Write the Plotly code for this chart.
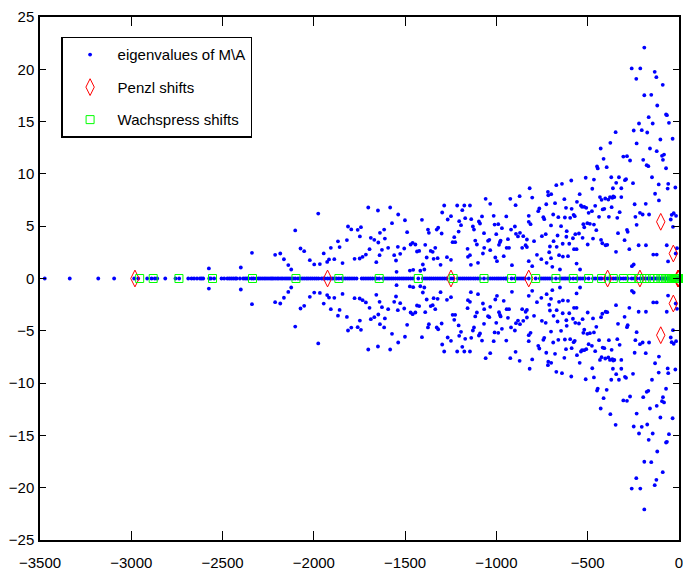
import plotly.graph_objects as go

# ---------------- data ----------------
# eigenvalues with positive imaginary part; their conjugates are the lower half
UP_RE_A = [-2575, -2400, -2339, -2212, -2184, -2164, -2140, -2124, -2102, -2073,
           -2053, -2022, -1998, -1976, -1967, -1946, -1927, -1917, -1907, -1888,
           -1868, -1859, -1843, -1819, -1813, -1795, -1777, -1760, -1749, -1742,
           -1748, -1733, -1715, -1702, -1695, -1688, -1669, -1658, -1649, -1647,
           -1638, -1640, -1627, -1615, -1611, -1593, -1582, -1572, -1560, -1550,
           -1547, -1538, -1540, -1527, -1505, -1501]
UP_IM_A = [0.96, 1.05, 2.45, 2.26, 2.39, 1.84, 1.28, 0.86, 4.60, 2.87,
           2.61, 1.75, 1.35, 6.21, 1.38, 2.40, 1.58, 1.82, 2.93, 1.85,
           3.55, 3.00, 1.47, 3.67, 4.97, 4.69, 1.88, 4.65, 1.91, 4.91,
           4.02, 2.07, 2.29, 6.79, 2.80, 3.89, 3.70, 1.56, 6.50, 3.44,
           4.37, 2.23, 2.74, 4.68, 3.82, 2.93, 6.79, 5.29, 2.23, 1.72,
           0.64, 6.12, 3.03, 2.36, 2.87, 5.57]

UP_RE_B = [-1489, -1474, -1470, -1459, -1444, -1456, -1435, -1423, -1417, -1408,
           -1403, -1395, -1390, -1382, -1375, -1370, -1360, -1349, -1344, -1335,
           -1327, -1319, -1322, -1306, -1300, -1297, -1286, -1271, -1267, -1249,
           -1249, -1240, -1231, -1226, -1215, -1207, -1204, -1194, -1187, -1176,
           -1171, -1158, -1156, -1145, -1145, -1138, -1140, -1129, -1123, -1116,
           -1107, -1101, -1096, -1090, -1079, -1074, -1068, -1067, -1059, -1046,
           -1039, -1034, -1034, -1015, -1010, -1006, -1001, -997, -990, -986,
           -981, -977, -970, -960, -946, -944, -937, -931, -924, -920,
           -915, -899, -895, -893, -882, -873, -871, -859, -853, -840,
           -833, -833, -823, -823, -818, -813, -823, -804, -804, -794]
UP_IM_B = [4.43, 0.76, 3.25, 3.41, 3.25, 0.83, 2.58, 2.64, 0.74, 5.61,
           1.34, 0.86, 3.22, 2.01, 4.68, 4.37, 2.64, 2.55, 1.88, 2.93,
           4.68, 4.85, 1.94, 1.31, 4.30, 6.31, 6.98, 2.04, 5.64, 1.79,
           5.96, 3.47, 3.95, 3.47, 6.98, 4.49, 5.48, 5.10, 6.53, 6.98,
           5.77, 2.84, 2.07, 6.98, 2.23, 5.67, 1.31, 4.97, 4.68, 3.63,
           3.25, 1.50, 5.45, 5.26, 5.93, 2.39, 4.33, 2.93, 7.62, 3.60,
           3.70, 2.71, 7.14, 5.99, 5.16, 2.01, 4.24, 1.66, 5.19, 3.22,
           3.47, 3.63, 4.81, 2.13, 5.93, 2.93, 3.76, 2.93, 7.62, 4.68,
           1.27, 4.97, 7.01, 4.27, 4.02, 7.87, 4.37, 2.93, 4.05, 3.18,
           3.00, 3.73, 5.99, 5.42, 8.63, 5.19, 1.66, 7.74, 1.18, 3.57]

UP_RE_C = [-778, -771, -765, -754, -743, -738, -751, -730, -727, -725,
           -718, -716, -711, -707, -700, -701, -701, -694, -687, -689,
           -679, -672, -670, -665, -661, -657, -652, -646, -641, -637,
           -636, -628, -625, -619, -617, -615, -608, -601, -596, -590,
           -588, -581, -577, -575, -571, -568, -561, -561, -559, -548,
           -544, -542, -537, -531, -528, -524, -519, -519, -511, -508,
           -502, -500, -495, -488, -477, -475, -471, -466, -466, -459,
           -453, -449, -445, -438, -433, -429, -427, -424, -420, -418,
           -413, -409, -404, -402, -396, -393, -387, -384, -378, -376]
UP_IM_C = [2.26, 6.44, 6.69, 1.85, 5.86, 5.67, 4.05, 4.24, 7.10, 1.50,
           8.29, 7.96, 2.51, 3.06, 8.06, 5.07, 1.94, 1.12, 3.57, 6.12,
           7.20, 8.92, 3.03, 4.11, 5.86, 2.23, 0.86, 5.00, 9.05, 3.32,
           2.10, 7.58, 5.83, 6.76, 3.99, 4.52, 2.13, 3.32, 5.80, 9.37,
           6.66, 3.85, 6.09, 2.80, 5.96, 4.24, 2.80, 1.43, 7.33, 4.30,
           8.06, 0.86, 6.98, 6.85, 3.89, 5.19, 6.85, 4.90, 9.63, 6.76,
           5.29, 3.25, 6.28, 5.23, 6.44, 8.58, 3.82, 9.46, 5.16, 6.95,
           4.62, 10.71, 10.52, 5.90, 7.78, 12.43, 3.70, 7.52, 3.37, 6.60,
           11.44, 6.66, 7.65, 3.18, 10.64, 3.22, 7.55, 5.90, 7.78, 12.97]

UP_RE_D = [-371, -369, -365, -362, -360, -354, -347, -345, -344, -338,
           -334, -329, -325, -316, -316, -305, -296, -298, -290, -285,
           -285, -281, -272, -268, -259, -258, -252, -248, -248, -243,
           -239, -234, -232, -232, -221, -219, -214, -212, -204, -199,
           -196, -190, -190, -182, -181, -177, -174, -168, -166, -164,
           -159, -152, -148, -144, -141, -133, -131, -124, -122, -122,
           -119, -111, -110, -102, -93, -89, -88, -82, -71, -71,
           -67, -66, -62, -60, -59, -55, -45, -40, -35, -33,
           -29, -20, -16, -18, -11]
UP_IM_D = [9.68, 6.82, 7.71, 8.63, 7.84, 7.78, 13.99, 2.55, 9.15, 5.80,
           4.33, 9.68, 6.34, 8.63, 7.78, 11.66, 9.40, 3.66, 9.50, 11.69,
           4.65, 4.46, 2.80, 11.28, 20.08, 1.18, 9.11, 1.34, 14.15, 7.10,
           5.90, 19.09, 12.91, 5.13, 3.18, 14.82, 6.28, 20.08, 14.18, 6.12,
           11.35, 17.52, 22.08, 7.14, 3.18, 10.83, 13.96, 10.74, 15.42, 6.12,
           12.43, 17.56, 9.68, 14.82, 2.29, 19.76, 8.10, 19.25, 12.17, 2.29,
           16.54, 8.99, 7.46, 13.29, 11.73, 18.52, 11.35, 11.85, 15.68, 10.54,
           3.18, 15.61, 8.60, 1.63, 9.05, 14.88, 5.64, 6.09, 13.36, 4.94,
           6.24, 8.70, 5.99, 2.39, 2.90]

# purely real eigenvalues
REAL_EIG = [-3474, -3337, -3181, -3094, -2984, -2962, -2913, -2889, -2871, -2858, -2814, -2758, -2738,
            -2688, -2670, -2656, -2640, -2624, -2615, -2606, -2573, -2564, -2546, -2506, -2491, -2474,
            -2463, -2452, -2441, -2430, -2423, -2405, -2387, -2376, -2366, -2358, -2341, -2330, -2314,
            -2303, -2294, -2283, -2272, -2262, -2251, -2240, -2231, -2223, -2212, -2201, -2192, -2180,
            -2170, -2158, -2147, -2136, -2125, -2114, -2102, -2087, -2076, -2064, -2053, -2041, -2031,
            -2019, -2008, -1996, -1985, -1974, -1958, -1948, -1940, -1925, -1912, -1900, -1889, -1876,
            -1863, -1848, -1837, -1826, -1814, -1803, -1791, -1779, -1766, -1738, -1727, -1715, -1703,
            -1691, -1679, -1666, -1656, -1642, -1622, -1611, -1599, -1588, -1576, -1565, -1553, -1541,
            -1530, -1518, -1507, -1495, -1483, -1470, -1457, -1428, -1403, -1391, -1380, -1368, -1357,
            -1345, -1333, -1321, -1309, -1297, -1285, -1273, -1249, -1237, -1211, -1199, -1187, -1176,
            -1164, -1152, -1140, -1127, -1115, -1102, -1090, -1068, -1046, -1034, -1022, -1010, -998,
            -987, -975, -962, -950, -944, -917, -899, -887, -876, -865, -854, -844, -823, -785, -762,
            -751, -740, -730, -719, -708, -697, -674, -652, -641, -630, -620, -608, -597, -579, -561,
            -549, -538, -526, -515, -495, -471, -459, -446, -433, -424, -405, -391, -378, -360, -347,
            -335, -320, -305, -293, -280, -259, -245, -232, -214, -200, -186, -172, -160, -148, -136,
            -125, -114, -103, -93, -83, -74, -65, -57, -49, -42, -35, -29, -23, -18, -13, -9, -6, -3,
            -1.5, -0.5]

# Penzl shifts
PENZL_RE = [-2980, -1925, -1249, -823, -391, -214, -100, -100, -31, -31, -6, -4.5, -3, -2]
PENZL_IM = [0, 0, 0, 0, 0, 0, 5.42, -5.42, 2.39, -2.39, 0, 0, 0, 0]

# Wachspress shifts (all real)
WACHS_RE = [-2954, -2880, -2739, -2555, -2336, -2098, -1863, -1642, -1428, -1237, -1068,
            -917, -785, -674, -579, -495, -424, -360, -305, -259, -220, -188, -160, -136,
            -116, -99, -84, -71, -61, -52, -44, -37, -32, -27, -23, -19.5, -16.5, -14, -12,
            -10, -8.5, -7.2, -6.1, -5.2, -4.4, -3.7, -3.1, -2.6, -2.2, -1.8, -1.5, -1.2,
            -1.0, -0.8, -0.6, -0.4, -0.2]

X_TICKS = [-3500, -3000, -2500, -2000, -1500, -1000, -500, 0]
Y_TICKS = [-25, -20, -15, -10, -5, 0, 5, 10, 15, 20, 25]

# ---------------- build ----------------
up_re = UP_RE_A + UP_RE_B + UP_RE_C + UP_RE_D
up_im = UP_IM_A + UP_IM_B + UP_IM_C + UP_IM_D
eig_x = up_re + up_re + REAL_EIG
eig_y = up_im + [-v for v in up_im] + [0] * len(REAL_EIG)

FONT = "Liberation Sans, Arial, Helvetica, sans-serif"

fig = go.Figure()
fig.add_trace(go.Scatter(
    x=eig_x, y=eig_y, mode="markers", name="eigenvalues of M\\A",
    legendgroup="g1",
    marker=dict(symbol="circle", size=3.8, color="#0000ff", line=dict(width=0)),
))
fig.add_trace(go.Scatter(
    x=PENZL_RE, y=PENZL_IM, mode="markers", name="Penzl shifts",
    legendgroup="g2", cliponaxis=False,
    marker=dict(symbol="diamond-tall-open", size=12, color="#ff0000", line=dict(width=1)),
))
fig.add_trace(go.Scatter(
    x=WACHS_RE, y=[0] * len(WACHS_RE), mode="markers", name="Wachspress shifts",
    legendgroup="g3", cliponaxis=False,
    marker=dict(symbol="square-open", size=8, color="#00ff00", line=dict(width=1)),
))

axis_common = dict(
    showline=True, linecolor="black", linewidth=1.5, mirror="ticks",
    ticks="inside", tickcolor="black", tickwidth=1,
    showgrid=False, zeroline=False, automargin=False,
    tickfont=dict(family=FONT, size=15, color="black"),
)
fig.update_xaxes(range=[-3500, 0], tickvals=X_TICKS, ticklen=9,
                 ticklabelstandoff=8, ticklabeloverflow="allow", **axis_common)
fig.update_yaxes(range=[-25, 25], tickvals=Y_TICKS, ticklen=6,
                 ticklabelstandoff=1, **axis_common)

fig.update_layout(
    width=683, height=571,
    margin=dict(l=40, r=4, t=17, b=31, autoexpand=False),
    paper_bgcolor="white", plot_bgcolor="white",
    showlegend=True,
    legend=dict(
        x=0.033, y=0.962, xanchor="left", yanchor="top",
        bgcolor="white", bordercolor="black", borderwidth=1.5,
        font=dict(family=FONT, size=15, color="black"),
        traceorder="grouped", tracegroupgap=10,
        itemsizing="trace", itemwidth=45,
        entrywidth=190, entrywidthmode="pixels",
    ),
)

fig.write_html("out.html")
